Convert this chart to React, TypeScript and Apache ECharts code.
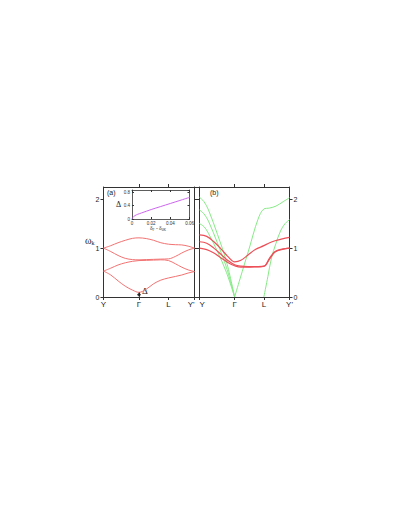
import React, { useEffect, useRef } from "react";
import * as echarts from "echarts";

// high-symmetry points along the path (fraction of path length)
const kTickValues = [0, 0.39, 0.715, 1];
const kTickNames = ["Y", "Γ", "L", "Y'"];

// panel (a): four red bands
const kA = [0, 0.08, 0.16, 0.24, 0.32, 0.39, 0.47, 0.55, 0.63, 0.715, 0.79, 0.86, 0.93, 1.0];
const aBand1 = [1.0, 1.05, 1.11, 1.16, 1.2, 1.21, 1.195, 1.16, 1.11, 1.08, 1.07, 1.065, 1.04, 1.0];
const aBand2 = [1.0, 0.93, 0.85, 0.79, 0.765, 0.76, 0.765, 0.77, 0.775, 0.78, 0.83, 0.9, 0.96, 1.0];
const aBand3 = [0.53, 0.59, 0.655, 0.7, 0.73, 0.745, 0.75, 0.755, 0.76, 0.745, 0.68, 0.61, 0.555, 0.52];
const aBand4 = [0.53, 0.45, 0.33, 0.22, 0.14, 0.095, 0.16, 0.27, 0.345, 0.39, 0.42, 0.45, 0.49, 0.52];
const gapValue = 0.095;

// panel (b): red bands
const kB = [0, 0.08, 0.16, 0.24, 0.32, 0.39, 0.46, 0.54, 0.62, 0.715, 0.78, 0.84, 0.92, 1.0];
const bRed1 = [1.27, 1.24, 1.13, 0.98, 0.82, 0.72, 0.75, 0.86, 0.97, 1.05, 1.11, 1.15, 1.19, 1.22];
const bRed2 = [1.13, 1.1, 1.0, 0.87, 0.74, 0.66, 0.63, 0.62, 0.62, 0.63, 0.8, 0.93, 0.98, 1.0];
const bRed3 = [1.0, 0.97, 0.9, 0.8, 0.7, 0.64, 0.61, 0.61, 0.615, 0.625, 0.78, 0.92, 0.975, 1.0];

// panel (b): green bands
const kG1 = [0, 0.05, 0.1, 0.2, 0.3, 0.39];
const bGreen1 = [2.04, 1.95, 1.78, 1.28, 0.72, 0];
const bGreen2 = [1.78, 1.7, 1.55, 1.1, 0.6, 0];
const bGreen3 = [1.5, 1.44, 1.3, 0.93, 0.5, 0];
const kG4 = [0.39, 0.45, 0.55, 0.65, 0.715, 0.78, 0.85, 0.93, 1.0];
const bGreen4 = [0, 0.37, 0.98, 1.59, 1.8, 1.82, 1.86, 1.95, 2.03];
const kG5 = [0.715, 0.76, 0.8, 0.85, 0.9, 0.95, 1.0];
const bGreen5 = [0, 0.42, 0.8, 1.1, 1.35, 1.5, 1.58];

// inset: gap vs delta
const insetX = [0, 0.001, 0.003, 0.006, 0.01, 0.02, 0.03, 0.04, 0.05, 0.06];
const insetY = [0, 0.05, 0.1, 0.14, 0.18, 0.28, 0.37, 0.46, 0.55, 0.64];

const SANS = "Liberation Sans";
const SERIF = "Liberation Serif";
const AX = "#333";
const RED_A = "#f27272";
const RED_B = "#ec5058";
const GREEN = "#86ea86";

const zip = (xs: number[], ys: number[]) => xs.map((x, i) => [x, ys[i]]);

const kName = (v: number) => {
  let best = 0;
  kTickValues.forEach((t, i) => {
    if (Math.abs(t - v) < Math.abs(kTickValues[best] - v)) best = i;
  });
  return kTickNames[best];
};

function mainX(gridIndex: number, bottom: boolean, align: Record<string, string>) {
  return {
    type: "value",
    gridIndex,
    position: bottom ? "bottom" : "top",
    min: 0,
    max: 1,
    axisLine: { show: true, onZero: false, lineStyle: { color: AX, width: 1 } },
    axisTick: {
      show: true,
      length: 3,
      customValues: bottom ? kTickValues : kTickValues.slice(1, 3),
      lineStyle: { color: AX },
    },
    axisLabel: {
      show: bottom,
      customValues: kTickValues,
      formatter: (v: number) => kName(v),
      fontFamily: SANS,
      fontSize: 8,
      color: "#222",
      margin: 3,
      ...align,
    },
    splitLine: { show: false },
  };
}

function mainY(gridIndex: number, position: string, labels: boolean) {
  return {
    type: "value",
    gridIndex,
    position,
    min: 0,
    max: 2.25,
    interval: 1,
    axisLine: { show: true, onZero: false, lineStyle: { color: AX, width: 1 } },
    axisTick: { show: true, length: 3, lineStyle: { color: AX } },
    axisLabel: {
      show: labels,
      showMaxLabel: false,
      fontFamily: SANS,
      fontSize: 7,
      color: "#222",
      margin: 4,
    },
    splitLine: { show: false },
  };
}

function insetXAxis(position: string, labels: boolean) {
  return {
    type: "value",
    gridIndex: 2,
    position,
    min: 0,
    max: 0.06,
    interval: 0.02,
    axisLine: { show: true, onZero: false, lineStyle: { color: AX, width: 0.8 } },
    axisTick: { show: true, inside: true, length: 2, lineStyle: { color: AX } },
    axisLabel: {
      show: labels,
      fontFamily: SANS,
      fontSize: 4.5,
      color: "#333",
      margin: 2,
      formatter: (v: number) => (v === 0 ? "0" : v.toFixed(2)),
    },
    splitLine: { show: false },
  };
}

function insetYAxis(position: string, labels: boolean) {
  return {
    type: "value",
    gridIndex: 2,
    position,
    min: 0,
    max: 0.86,
    interval: 0.4,
    axisLine: { show: true, onZero: false, lineStyle: { color: AX, width: 0.8 } },
    axisTick: { show: true, inside: true, length: 2, lineStyle: { color: AX } },
    axisLabel: {
      show: labels,
      showMaxLabel: false,
      fontFamily: SANS,
      fontSize: 4.5,
      color: "#333",
      margin: 2,
    },
    splitLine: { show: false },
  };
}

function line(xi: number, yi: number, xs: number[], ys: number[], color: string, width: number) {
  return {
    type: "line",
    xAxisIndex: xi,
    yAxisIndex: yi,
    data: zip(xs, ys),
    smooth: 0.35,
    showSymbol: false,
    symbol: "none",
    lineStyle: { color, width },
    silent: true,
  };
}

export default function App() {
  const ref = useRef<HTMLDivElement>(null);
  useEffect(() => {
    if (!ref.current) return;
    const chart = echarts.init(ref.current, null, { renderer: "svg" });
    chart.setOption({
      animation: false,
      backgroundColor: "#fff",
      grid: [
        { left: 103.5, top: 187, width: 91, height: 110 },
        { left: 199.5, top: 187, width: 90, height: 110 },
        { left: 132, top: 190, width: 57.5, height: 29 },
      ],
      xAxis: [
        mainX(0, true, { alignMaxLabel: "right" }),
        mainX(0, false, {}),
        mainX(1, true, { alignMinLabel: "left" }),
        mainX(1, false, {}),
        insetXAxis("bottom", true),
        insetXAxis("top", false),
      ],
      yAxis: [
        mainY(0, "left", true),
        mainY(0, "right", false),
        mainY(1, "right", true),
        mainY(1, "left", false),
        insetYAxis("left", true),
        insetYAxis("right", false),
      ],
      series: [
        line(0, 0, kA, aBand1, RED_A, 1),
        line(0, 0, kA, aBand2, RED_A, 1),
        line(0, 0, kA, aBand3, RED_A, 1),
        line(0, 0, kA, aBand4, RED_A, 1),
        {
          type: "line",
          xAxisIndex: 0,
          yAxisIndex: 0,
          data: [],
          silent: true,
          markLine: {
            silent: true,
            symbol: ["arrow", "arrow"],
            symbolSize: [3, 3],
            label: { show: false },
            lineStyle: { color: "#222", width: 1, type: "solid" },
            data: [[{ coord: [kTickValues[1], 0.005] }, { coord: [kTickValues[1], gapValue - 0.005] }]],
          },
        },
        line(2, 2, kG1, bGreen1, GREEN, 1),
        line(2, 2, kG1, bGreen2, GREEN, 1),
        line(2, 2, kG1, bGreen3, GREEN, 1),
        line(2, 2, kG4, bGreen4, GREEN, 1),
        line(2, 2, kG5, bGreen5, GREEN, 1),
        line(2, 2, kB, bRed1, RED_B, 1.2),
        line(2, 2, kB, bRed2, RED_B, 1.2),
        line(2, 2, kB, bRed3, RED_B, 1.2),
        {
          type: "line",
          xAxisIndex: 4,
          yAxisIndex: 4,
          data: zip(insetX, insetY),
          smooth: 0.3,
          showSymbol: false,
          symbol: "none",
          lineStyle: { color: "#cc66ee", width: 1 },
          silent: true,
        },
      ],
      graphic: [
        {
          type: "text",
          left: 107,
          top: 189,
          style: { text: "(a)", fontFamily: SANS, fontSize: 7, fill: "#222" },
        },
        {
          type: "text",
          left: 210,
          top: 189,
          style: { text: "(b)", fontFamily: SANS, fontSize: 7, fill: "#222" },
        },
        {
          type: "text",
          left: 85,
          top: 235,
          style: {
            text: "{w|ω}{s|k}",
            rich: {
              w: { fontFamily: SERIF, fontSize: 10, fill: "#222" },
              s: { fontFamily: SERIF, fontSize: 6, fill: "#222", padding: [5, 0, 0, 0] },
            },
          },
        },
        {
          type: "text",
          left: 142,
          top: 286,
          style: { text: "Δ", fontFamily: SERIF, fontSize: 9, fill: "#222" },
        },
        {
          type: "text",
          left: 116,
          top: 200,
          style: { text: "Δ", fontFamily: SERIF, fontSize: 8, fill: "#222" },
        },
        {
          type: "text",
          left: 150,
          top: 225,
          style: {
            text: "{d|δ}{s|F}{d| - δ}{s|0K}",
            rich: {
              d: { fontFamily: SERIF, fontSize: 5.5, fill: "#333" },
              s: { fontFamily: SERIF, fontSize: 3.5, fill: "#333", padding: [3, 0, 0, 0] },
            },
          },
        },
      ],
    });
    return () => chart.dispose();
  }, []);
  return (
    <div
      ref={ref}
      style={{ position: "fixed", left: 0, top: 0, width: 407, height: 527, background: "#fff" }}
    />
  );
}
